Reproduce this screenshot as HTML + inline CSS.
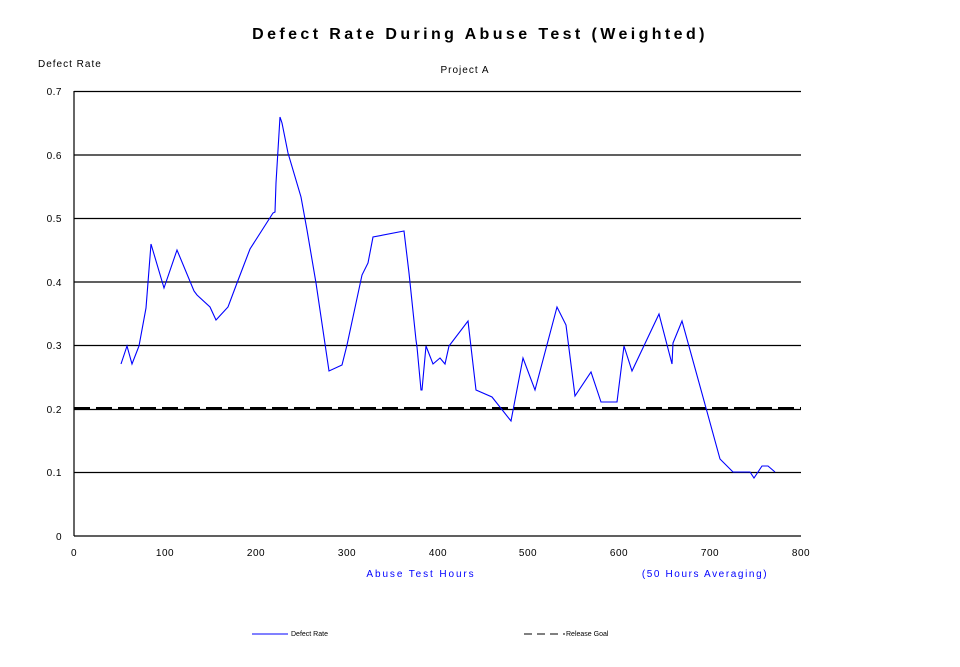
<!DOCTYPE html>
<html><head><meta charset="utf-8"><style>
html,body{margin:0;padding:0;background:#fff;}
svg{display:block;font-family:"Liberation Sans",Arial,sans-serif;}
</style></head><body>
<svg width="960" height="667" viewBox="0 0 960 667" xmlns="http://www.w3.org/2000/svg">
<rect width="960" height="667" fill="#fff"/>
<text x="480" y="39" text-anchor="middle" font-size="16" font-weight="bold" letter-spacing="3.4">Defect Rate During Abuse Test (Weighted)</text>
<text x="38" y="67" font-size="10" letter-spacing="1">Defect Rate</text>
<text x="465" y="73" text-anchor="middle" font-size="10" letter-spacing="1">Project A</text>
<g stroke="#000" stroke-width="1.2">
<line x1="74" y1="91.5" x2="801" y2="91.5"/>
<line x1="74" y1="155" x2="801" y2="155"/>
<line x1="74" y1="218.5" x2="801" y2="218.5"/>
<line x1="74" y1="282" x2="801" y2="282"/>
<line x1="74" y1="345.5" x2="801" y2="345.5"/>
<line x1="74" y1="409.5" x2="801" y2="409.5"/>
<line x1="74" y1="472.5" x2="801" y2="472.5"/>
<line x1="74" y1="536" x2="801" y2="536"/>
<line x1="74" y1="91" x2="74" y2="536"/>
</g>
<line x1="74" y1="408" x2="801" y2="408" stroke="#000" stroke-width="2" stroke-dasharray="16,6"/>
<g font-size="10" text-anchor="end" letter-spacing="0.5">
<text x="62" y="95">0.7</text><text x="62" y="159">0.6</text><text x="62" y="222">0.5</text>
<text x="62" y="286">0.4</text><text x="62" y="349">0.3</text><text x="62" y="413">0.2</text>
<text x="62" y="476">0.1</text><text x="62" y="540">0</text>
</g>
<g font-size="10" text-anchor="middle" letter-spacing="0.5">
<text x="74" y="556">0</text><text x="165" y="556">100</text><text x="256" y="556">200</text>
<text x="347" y="556">300</text><text x="438" y="556">400</text><text x="528" y="556">500</text>
<text x="619" y="556">600</text><text x="710" y="556">700</text><text x="801" y="556">800</text>
</g>
<text x="421" y="577" text-anchor="middle" font-size="10" fill="#0000ff" letter-spacing="1.9">Abuse Test Hours</text>
<text x="705" y="577" text-anchor="middle" font-size="10" fill="#0000ff" letter-spacing="1.6">(50 Hours Averaging)</text>
<polyline fill="none" stroke="#0000ff" stroke-width="1.1" points="121,364 127,346 132,364 139,346 146,308 151,244 164,288 177,250 194,291 197,295 210,307 216,320 228,307 237,283 250,249 273,213 275,212 276,183 280,117 282,123 288,153 301,197 307,230 316,283 329,371 342,365 347,345 362,275 368,263 373,237 404,231 409,273 416,340 417,347 421,390 422,390 426,346 433,364 440,358 445,364 449,346 468,321 476,390 492,397 511,421 523,358 535,390 557,307 566,325 575,396 591,372 601,402 617,402 624,346 632,371 659,314 672,364 673,343 682,321 706,408 720,459 733,472 750,472 754,478 762,466 768,466 775,472"/>
<line x1="252" y1="634" x2="288" y2="634" stroke="#0000ff" stroke-width="1"/>
<text x="291" y="636" font-size="7">Defect Rate</text>
<line x1="524" y1="634" x2="565" y2="634" stroke="#000" stroke-width="1" stroke-dasharray="8,5"/>
<text x="566" y="636" font-size="7">Release Goal</text>
</svg>
</body></html>
